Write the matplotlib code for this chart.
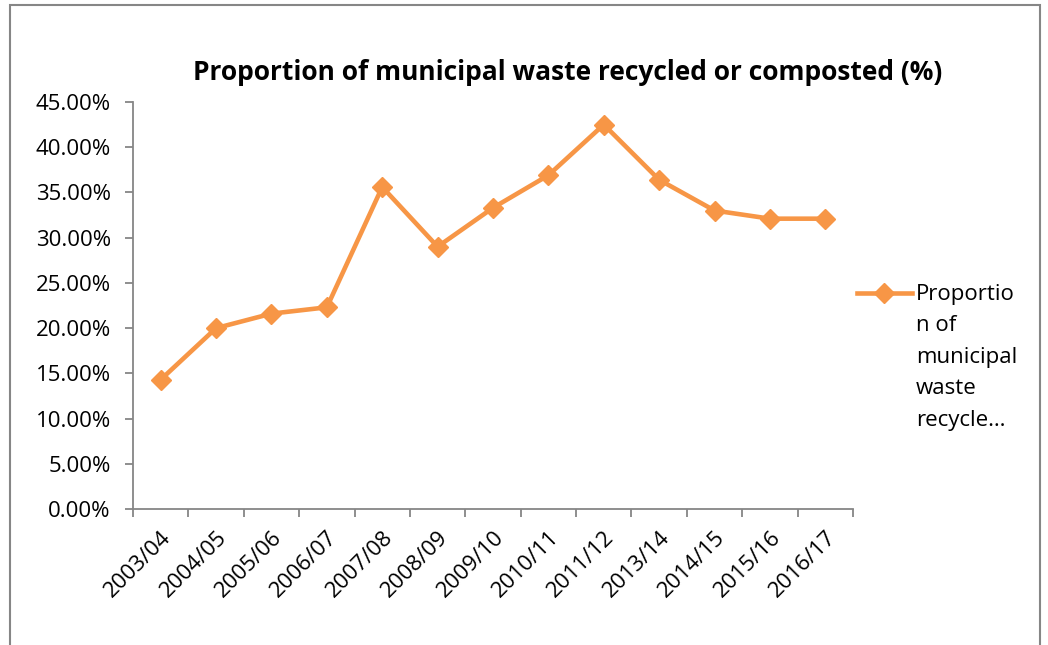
import matplotlib
matplotlib.use("Agg")
import matplotlib.pyplot as plt
from matplotlib.lines import Line2D
from matplotlib.patches import Rectangle
from matplotlib.ticker import FuncFormatter, MultipleLocator, FixedLocator

categories = ["2003/04", "2004/05", "2005/06", "2006/07", "2007/08", "2008/09",
              "2009/10", "2010/11", "2011/12", "2013/14", "2014/15", "2015/16", "2016/17"]
values = [14.3, 20.0, 21.6, 22.3, 35.6, 29.0, 33.3, 36.9, 42.5, 36.4, 33.0, 32.1, 32.1]
title = "Proportion of municipal waste recycled or composted (%)"
legend_label = "Proportio\nn of\nmunicipal\nwaste\nrecycle…"

ORANGE = "#F79646"
GRAY = "#868686"
plt.rcParams['font.family'] = ['Open Sans', 'DejaVu Sans']
FS = 16

W, H = 1048, 645
fig = plt.figure(figsize=(W / 100, H / 100), dpi=100)
ax = fig.add_axes([133 / W, 1 - 509 / H, (853 - 133) / W, (509 - 102) / H])

x = list(range(len(categories)))
ax.plot(x, values, color=ORANGE, lw=3.3, marker="D", markersize=10.5,
        markeredgecolor=ORANGE, markerfacecolor=ORANGE, clip_on=False)

ax.set_xlim(-0.5, len(categories) - 0.5)
ax.set_ylim(0, 45)
ax.yaxis.set_major_locator(MultipleLocator(5))
ax.yaxis.set_major_formatter(FuncFormatter(lambda v, p: f"{v:.2f}%"))
ax.set_xticks(x)
ax.set_xticklabels(categories, rotation=45, ha="right", rotation_mode="anchor")
ax.xaxis.set_minor_locator(FixedLocator([i - 0.5 for i in range(len(categories) + 1)]))
ax.tick_params(axis="x", which="major", length=0, pad=13, labelsize=FS)
ax.tick_params(axis="x", which="minor", length=6, width=1.3, color=GRAY, direction="out")
ax.tick_params(axis="y", which="major", length=6, width=1.3, color=GRAY, direction="out",
               labelsize=FS, pad=10)
for s in ["top", "right"]:
    ax.spines[s].set_visible(False)
for s in ["left", "bottom"]:
    ax.spines[s].set_color(GRAY)
    ax.spines[s].set_linewidth(1.3)

fig.text(568 / W, 1 - 72 / H, title, ha="center", va="center",
         fontsize=19, fontweight="bold")

# legend
fig.add_artist(Line2D([857 / W, 912 / W], [1 - 293 / H, 1 - 293 / H],
                      transform=fig.transFigure, color=ORANGE, lw=3.3))
fig.add_artist(Line2D([884 / W], [1 - 293 / H], transform=fig.transFigure,
                      color=ORANGE, marker="D", markersize=10.5, lw=0))
fig.text(916 / W, 1 - 284 / H, legend_label, ha="left", va="top",
         fontsize=FS, linespacing=1.65)

# chart frame
fig.add_artist(Rectangle((10 / W, -0.1), (1040 - 10) / W, 1.1 - 5 / H,
                         transform=fig.transFigure, fill=False, edgecolor=GRAY, lw=1.5))

fig.savefig("out.png", dpi=100)
